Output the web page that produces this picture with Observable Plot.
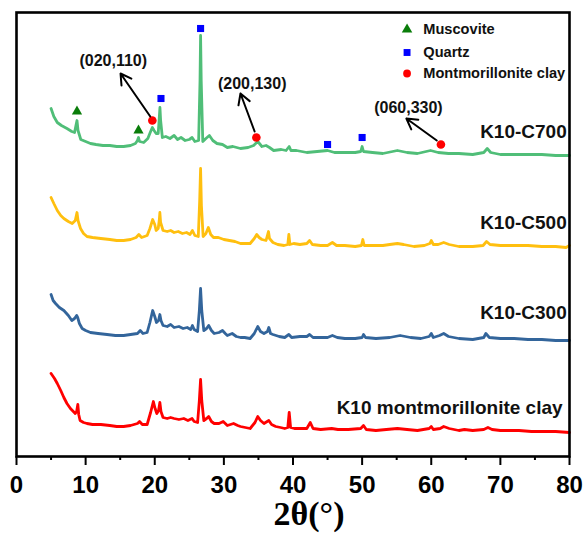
<!DOCTYPE html>
<html><head><meta charset="utf-8">
<script src="https://cdn.jsdelivr.net/npm/d3@7"></script>
<script src="https://cdn.jsdelivr.net/npm/@observablehq/plot@0.6"></script>
<style>
body{margin:0;background:#fff}
svg{font-family:"Liberation Sans",Arial,sans-serif}
</style>
</head><body><div id="chart"></div><script>
// ---- data (2θ in degrees, intensity in offset arbitrary units) ----
const xTicks = [0,10,20,30,40,50,60,70,80];
const xMinorTicks = [5,15,25,35,45,55,65,75];

const c700 = [[5.0,348],[5.4,340],[5.9,334],[6.5,331],[7.3,328],[8.0,325],[8.4,324],[8.6,331],[8.75,336],[8.9,326],[9.3,317],[10.0,315],[10.7,313],[11.5,312],[12.5,311],[13.5,311],[14.5,310],[15.5,310],[16.5,311],[17.2,313],[17.5,316],[17.65,319],[17.8,315],[18.4,314],[19.0,318],[19.4,325],[19.65,329],[19.9,326],[20.2,323],[20.5,323],[20.65,338],[20.75,349],[20.85,336],[21.1,319],[21.6,320],[22.2,318],[22.8,321],[23.3,317],[23.8,319],[24.4,316],[25.0,317],[25.4,319],[25.8,315],[26.35,316],[26.55,376],[26.63,421],[26.72,376],[26.95,315],[27.4,318],[27.9,321],[28.4,316],[29.0,313],[29.8,312],[30.5,309],[31.3,310],[32.4,308],[33.5,309],[34.3,311],[34.9,315],[35.5,310],[36.1,311],[36.6,309],[37.2,306],[38.3,307],[39.0,306],[39.45,310],[39.7,306],[40.5,306],[42.0,304],[43.5,305],[45.0,306],[46.0,304],[47.5,304],[49.0,304],[49.8,305],[50.0,310],[50.2,305],[51.5,304],[53.0,303],[55.1,306],[56.5,304],[58.0,303],[59.9,306],[61.0,304],[62.5,303],[64.0,303],[66.0,302],[67.6,304],[68.1,308],[68.6,304],[70.0,302],[72.0,302],[74.0,302],[76.0,302],[78.0,301],[80.0,301]];

const c500 = [[5.0,259],[5.4,253],[5.9,246],[6.4,241],[6.85,238],[7.5,235],[8.06,233],[8.5,236],[8.75,244],[8.9,236],[9.26,228],[9.7,223],[10.2,220],[11.0,219],[12.2,218],[13.5,217],[14.5,216],[15.5,216],[16.5,217],[17.3,219],[17.7,222],[18.1,219],[18.9,221],[19.3,228],[19.7,237],[20.0,232],[20.2,226],[20.5,228],[20.65,236],[20.74,244],[20.85,234],[21.2,226],[21.8,225],[22.3,226],[22.8,224],[23.4,225],[24.0,223],[24.6,224],[25.1,222],[25.45,226],[25.8,221],[26.3,220],[26.5,256],[26.63,288],[26.75,251],[27.0,220],[27.4,223],[27.75,229],[28.1,222],[28.5,219],[29.2,219],[30.0,217],[30.8,216],[31.6,215],[32.4,213],[33.2,213],[33.8,213],[34.4,218],[34.75,222],[35.1,219],[35.5,217],[36.1,216],[36.45,225],[36.6,218],[37.1,214],[37.8,212],[38.7,211],[39.25,212],[39.4,222],[39.55,212],[40.1,213],[41.0,212],[42.0,213],[42.4,216],[42.8,212],[44.0,211],[45.0,211],[45.7,214],[46.3,211],[47.5,211],[49.0,210],[49.9,211],[50.1,217],[50.3,211],[51.5,211],[53.0,211],[54.0,212],[55.1,213],[56.0,212],[57.5,210],[59.0,211],[59.8,213],[60.0,216],[60.3,212],[61.0,212],[61.8,214],[62.6,212],[64.0,210],[66.0,210],[67.5,211],[68.0,215],[68.5,212],[70.0,211],[72.0,211],[74.0,211],[76.0,210],[78.0,210],[79.5,209],[80.0,211]];

const c300 = [[5.0,162],[5.3,156],[5.65,153],[6.2,149],[6.85,146],[7.5,141],[8.0,136],[8.4,138],[8.7,141],[8.85,139],[9.1,133],[9.5,128],[10.0,126],[10.7,124],[11.8,123],[13.1,122],[14.3,121],[15.5,121],[16.5,122],[17.5,123],[17.9,126],[18.3,123],[18.9,124],[19.3,134],[19.7,146],[20.0,140],[20.25,134],[20.55,136],[20.74,142],[20.9,136],[21.2,131],[21.8,130],[22.3,132],[22.8,129],[23.5,130],[24.1,128],[24.7,129],[25.2,127],[25.45,131],[25.7,127],[26.2,125],[26.45,146],[26.63,168],[26.8,146],[27.1,126],[27.5,128],[27.8,131],[28.2,126],[28.6,123],[29.3,124],[29.8,126],[30.2,123],[30.5,121],[31.2,123],[31.8,120],[32.4,119],[33.0,119],[33.8,118],[34.4,123],[34.9,130],[35.3,125],[35.8,123],[36.3,125],[36.5,129],[36.75,123],[37.1,122],[38.0,120],[38.8,119],[39.4,122],[39.8,119],[41.0,120],[42.0,120],[42.4,122],[42.9,119],[44.0,119],[45.0,119],[45.7,121],[46.4,119],[47.5,118],[49.0,118],[50.0,119],[50.2,122],[50.5,119],[52.0,118],[54.0,119],[55.5,121],[57.0,119],[58.5,118],[59.7,120],[60.0,123],[60.3,119],[61.2,121],[61.8,123],[62.5,120],[64.0,118],[66.0,117],[67.6,119],[67.9,123],[68.4,119],[70.0,118],[72.0,118],[74.0,117],[76.0,117],[78.0,116],[80.0,116]];

const k10 = [[5.0,83],[5.5,78],[5.9,73],[6.4,66],[6.85,59],[7.3,53],[7.8,48],[8.5,43],[8.7,45],[8.87,52],[9.0,42],[9.2,36],[9.7,34],[10.2,33],[11.0,32],[12.2,32],[13.5,31],[14.5,30],[15.5,30],[16.5,31],[17.5,33],[17.8,35],[18.2,32],[18.9,32],[19.4,44],[19.8,55],[20.05,48],[20.3,43],[20.55,46],[20.74,54],[20.9,45],[21.2,39],[21.8,38],[22.3,39],[22.8,38],[23.5,37],[24.2,38],[24.8,36],[25.4,38],[25.7,35],[26.2,34],[26.45,56],[26.63,77],[26.8,56],[27.1,36],[27.5,38],[27.8,40],[28.2,35],[28.6,33],[29.3,33],[29.9,35],[30.5,31],[31.4,33],[32.0,31],[32.4,30],[33.1,29],[33.8,28],[34.5,34],[34.9,40],[35.3,36],[35.8,33],[36.5,36],[36.9,32],[37.5,30],[38.2,29],[38.8,28],[39.25,29],[39.45,44],[39.65,29],[40.2,28],[41.0,28],[42.0,28],[42.5,34],[42.9,28],[44.0,27],[45.6,28],[46.5,27],[48.0,27],[49.8,28],[50.2,31],[50.6,27],[52.0,26],[53.5,27],[55.1,28],[56.5,27],[58.0,26],[59.7,28],[60.0,30],[60.3,27],[61.3,28],[61.8,30],[62.6,28],[64.0,26],[64.8,27],[66.0,26],[67.6,27],[68.2,29],[68.8,27],[70.0,26],[72.7,26],[74.5,25],[76.0,25],[78.0,25],[80.0,24]];

const seriesNames  = ["K10-C700","K10-C500","K10-C300","K10 montmorillonite clay"];
const seriesColors = ["#50be78","#ffbf0f","#33659b","#ff0000"];
const seriesData   = [c700, c500, c300, k10];
const seriesLabelPos = [[79.6,325],[79.6,234],[79.6,144],[79.0,49]];

// phase markers on the K10-C700 trace
const muscovite = [[8.75,345],[17.65,326]];
const quartz = [[20.9,358],[26.63,428],[45.0,312],[50.0,319]];
const montmorillonite = [[19.65,336],[34.7,319],[61.4,312]];

// Miller index annotations
const hklLabels = ["(020,110)","(200,130)","(060,330)"];
const hklText = [[14.0,396],[34.1,373],[56.7,349]];
const hklArrowFrom = [[19.35,340],[34.45,325],[60.8,316]];
const hklArrowTo = [[15.05,383],[32.4,363],[56.4,338]];

const legendNames = ["Muscovite","Quartz","Montmorillonite clay"];
const legendSymbols = ["triangle","square","circle"];
const legendColors = ["#0a7d0a","#0000ff","#ff0000"];
const legendPos = [[56.5,427],[56.5,404],[56.5,383]];

const xTitle = "2θ(°)";

const X = d => d[0], Y = d => d[1];

const marks = [
  Plot.axisX({ticks: xTicks, tickSize: 9, tickPadding: 10, strokeWidth: 2, fontSize: 24, fontWeight: "bold", label: null, tickFormat: d => String(d)}),
  Plot.axisX({ticks: xMinorTicks, tickSize: 4, strokeWidth: 2, label: null, tickFormat: () => ""}),
];
seriesData.forEach((data, i) => {
  marks.push(Plot.line(data, {x: X, y: Y, stroke: seriesColors[i], strokeWidth: 2.8, strokeLinejoin: "round"}));
});
marks.push(
  Plot.text(seriesNames, {x: (d,i) => seriesLabelPos[i][0], y: (d,i) => seriesLabelPos[i][1], text: d => d, textAnchor: "end", fontSize: 19, fontWeight: "bold", fill: "#111"}),
  Plot.dot(muscovite, {x: X, y: Y, symbol: "triangle", r: 3.8, fill: legendColors[0]}),
  Plot.dot(quartz, {x: X, y: Y, symbol: "square", r: 4.0, fill: legendColors[1]}),
  Plot.dot(montmorillonite, {x: X, y: Y, symbol: "circle", r: 4.3, fill: legendColors[2]}),
  Plot.arrow(hklLabels, {x1: (d,i) => hklArrowFrom[i][0], y1: (d,i) => hklArrowFrom[i][1], x2: (d,i) => hklArrowTo[i][0], y2: (d,i) => hklArrowTo[i][1], stroke: "#000", strokeWidth: 2, headLength: 9, bend: 0}),
  Plot.text(hklLabels, {x: (d,i) => hklText[i][0], y: (d,i) => hklText[i][1], text: d => d, fontSize: 16, fontWeight: "bold", fill: "#111"}),
  Plot.dot(legendNames, {x: (d,i) => legendPos[i][0], y: (d,i) => legendPos[i][1], symbol: (d,i) => legendSymbols[i], r: 3.9, fill: (d,i) => legendColors[i]}),
  Plot.text(legendNames, {x: (d,i) => legendPos[i][0] + 2.35, y: (d,i) => legendPos[i][1], text: d => d, textAnchor: "start", fontSize: 14.6, fontWeight: "bold", fill: "#111"}),
  Plot.frame({stroke: "#000", strokeWidth: 2.6})
);

const chart = Plot.plot({
  width: 585, height: 541,
  marginLeft: 16, marginRight: 16, marginTop: 12, marginBottom: 85,
  x: {domain: [0, 80]},
  y: {domain: [0, 444], axis: null},
  symbol: {type: "identity"},
  color: {type: "identity"},
  style: {fontFamily: "'Liberation Sans', Arial, sans-serif", background: "#fff"},
  marks
});
document.getElementById("chart").appendChild(chart);

// axis title
d3.select(chart).append("text")
  .attr("aria-label", "x-axis title")
  .attr("x", 309).attr("y", 525).attr("text-anchor", "middle")
  .style("font-family", "'Liberation Serif','Times New Roman',serif")
  .style("font-weight", "bold").style("font-size", "34px").attr("fill", "#000")
  .text(xTitle);
</script></body></html>
